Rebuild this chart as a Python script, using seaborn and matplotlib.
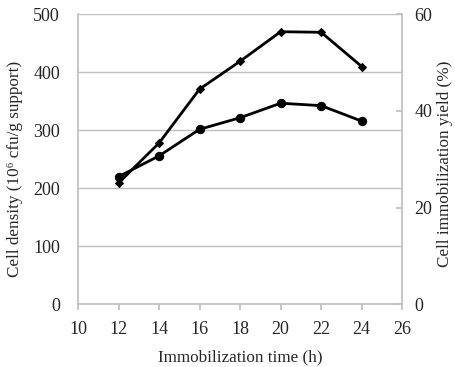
import matplotlib
matplotlib.use("Agg")
import matplotlib.pyplot as plt
import seaborn as sns
import pandas as pd

time_h = [12, 14, 16, 18, 20, 22, 24]
cell_density = [209, 278, 371, 419, 470, 469, 410]
immob_yield = [26.4, 30.7, 36.2, 38.6, 41.6, 41.1, 37.9]

x_ticks = [10, 12, 14, 16, 18, 20, 22, 24, 26]
left_ticks = [0, 100, 200, 300, 400, 500]
right_ticks = [0, 20, 40, 60]

sns.set_theme(style="white")
plt.rcParams['font.family'] = ['Liberation Serif', 'DejaVu Serif']

df = pd.DataFrame({"time": time_h, "density": cell_density, "yield": immob_yield})

fig = plt.figure(figsize=(4.56, 3.67), dpi=100)
ax = fig.add_axes([0.171, 0.171, 0.711, 0.790])
ax2 = ax.twinx()

sns.lineplot(data=df, x="time", y="density", ax=ax, color="black", lw=2,
             marker="D", markersize=4.5, markeredgecolor="black")
sns.lineplot(data=df, x="time", y="yield", ax=ax2, color="black", lw=2,
             marker="o", markersize=6, markeredgecolor="black")

grid_c = "#c0c0c0"
ax.set_xlim(10, 26)
ax.set_ylim(0, 500)
ax2.set_ylim(0, 60)
ax.set_xticks(x_ticks)
ax.set_yticks(left_ticks)
ax2.set_yticks(right_ticks)
ax.yaxis.grid(True, color=grid_c, lw=1)
ax.xaxis.grid(False)
ax2.grid(False)

for a in (ax, ax2):
    for s in a.spines.values():
        s.set_visible(False)
ax.spines['left'].set_visible(True)
ax.spines['left'].set_color(grid_c)
ax.spines['bottom'].set_visible(True)
ax.spines['bottom'].set_color(grid_c)
ax2.spines['right'].set_visible(True)
ax2.spines['right'].set_color(grid_c)

fs = 13
lfs = 12.3
ax.tick_params(axis='x', bottom=True, direction='out', length=4, color=grid_c,
               labelsize=fs, pad=8)
ax.tick_params(axis='y', left=False, labelsize=fs, pad=7)
ax2.tick_params(axis='y', right=True, direction='in', length=4, color=grid_c,
                labelsize=fs, pad=9)

ax.set_xlabel("Immobilization time (h)", fontsize=lfs, labelpad=8)
ax.set_ylabel("Cell density (10⁶ cfu/g support)", fontsize=lfs, labelpad=7)
ax2.set_ylabel("Cell immobilization yield (%)", fontsize=lfs, labelpad=3)
ax.yaxis.label.set_y(0.465)
ax2.yaxis.label.set_y(0.485)

fig.savefig("out.png", dpi=100)
